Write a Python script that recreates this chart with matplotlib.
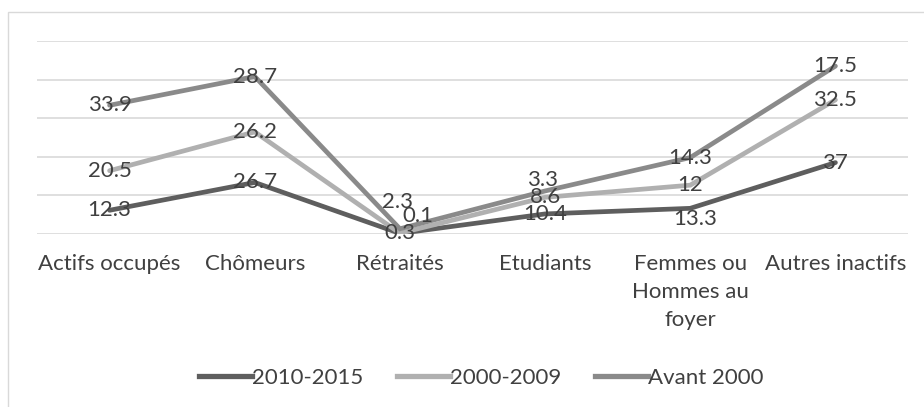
import matplotlib
matplotlib.use("Agg")
import matplotlib.pyplot as plt
from matplotlib.patches import Rectangle
from matplotlib.lines import Line2D
import numpy as np

categories = ["Actifs occupés", "Chômeurs", "Rétraités", "Etudiants",
              "Femmes ou\nHommes au\nfoyer", "Autres inactifs"]
series_names = ["2010-2015", "2000-2009", "Avant 2000"]
s2010_2015 = [12.3, 26.7, 0.3, 10.4, 13.3, 37]
s2000_2009 = [20.5, 26.2, 0.1, 8.6, 12, 32.5]
avant_2000 = [33.9, 28.7, 2.3, 3.3, 14.3, 17.5]

colors = ["#5e5e5e", "#b0b0b0", "#8a8a8a"]
FONT = "Lato"
TXT = "#404040"
FS = 16

# manual label nudges (pixels) for overlapping labels: (series, index) -> (dx, dy)
nudges = {(1, 2): (18, 17), (2, 2): (-2, 27), (2, 3): (-3, 11), (0, 4): (5, -11)}

fig = plt.figure(figsize=(9.24, 4.07), dpi=100)
fig.patches.append(Rectangle((8 / 924, 1 - 420 / 407), 930 / 924, (420 - 12) / 407,
                             transform=fig.transFigure, fill=False,
                             edgecolor="#d9d9d9", linewidth=1.0))
ax = fig.add_axes([37 / 924, 1 - 234 / 407, (908 - 37) / 924, (234 - 41) / 407])

x = np.arange(len(categories))
data = [s2010_2015, s2000_2009, avant_2000]
cum = np.zeros(len(categories))
for i, (name, vals) in enumerate(zip(series_names, data)):
    cum = cum + np.array(vals)
    ax.plot(x, cum, color=colors[i], linewidth=3.4, solid_capstyle="round",
            solid_joinstyle="miter", zorder=3, label=name)
    for j, v in enumerate(vals):
        dx, dy = nudges.get((i, j), (0, 0))
        ax.annotate(f"{v:g}", (x[j], cum[j]), xytext=(dx, dy), textcoords="offset pixels",
                    ha="center", va="center", fontsize=FS, family=FONT, color=TXT,
                    zorder=10)

ax.set_xlim(-0.5, len(categories) - 0.5)
ax.set_ylim(0, 100)
ax.set_yticks([0, 20, 40, 60, 80, 100])
ax.yaxis.grid(True, color="#d9d9d9", linewidth=1.2)
ax.set_axisbelow(True)
ax.tick_params(axis="y", left=False, labelleft=False)
ax.tick_params(axis="x", bottom=False, pad=11)
ax.set_xticks(x)
ax.set_xticklabels(categories, fontsize=FS, family=FONT, color=TXT, linespacing=1.5,
                   va="top")
for s in ax.spines.values():
    s.set_visible(False)
ax.patch.set_alpha(0)

handles = [Line2D([], [], color=c, linewidth=3.8) for c in colors]
leg = fig.legend(handles, series_names, loc="center", bbox_to_anchor=(481 / 924, 1 - 378 / 407),
                 ncol=3, frameon=False, prop={"family": FONT, "size": FS},
                 handlelength=2.4, handletextpad=0.0, columnspacing=1.5, borderaxespad=0)
for t in leg.get_texts():
    t.set_color(TXT)

fig.savefig("out.png", dpi=100)
